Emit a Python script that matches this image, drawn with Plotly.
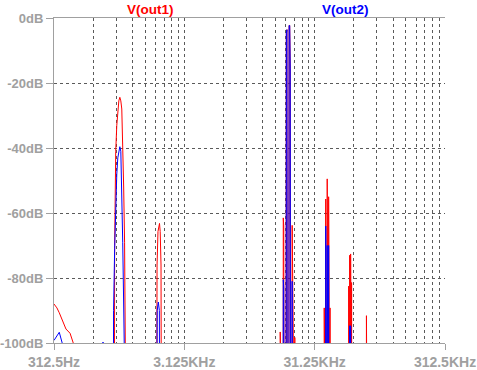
import math
import plotly.graph_objects as go

# ---------------- data ----------------
FLOOR = -140  # below the visible range: the trace drops out of the plot

out1_freq_hz = [
    312.5, 329, 343, 364, 386, 415, 439, 452, 460,
    908, 912.5, 930, 947.5, 965, 982.5, 1000, 1017.5, 1035, 1052.5, 1070, 1087.5, 1105, 1118,
    1915, 1930, 1962, 1995, 2015, 2040, 2070, 2085,
    16950, 17000, 17050,
    17900, 17950, 18100, 18200,
    18850, 18950, 19150, 19250,
    19800, 19900, 20100, 20300, 20400,
    20900, 21000, 21100,
    21950, 22000, 22050,
    36900, 37000, 37100,
    37850, 38000, 38150,
    38850, 39000, 39150,
    39850, 40000, 40150,
    40900, 41000, 41100,
    56850, 57000, 57150,
    57850, 58000, 58150,
    58850, 59000, 59150,
    59850, 60000, 60150,
    77850, 78000, 78150,
    78850, 79000, 79150,
]
out1_db = [
    -88.0, -89.2, -90.7, -93.4, -95.7, -97.0, -99.6, -101.5, FLOOR,
    FLOOR, -70, -41, -33, -28, -25.5, -24.4, -25.5, -28, -37, -52, -69, -88, FLOOR,
    FLOOR, -76, -65.7, -63.2, -63.2, -65.7, -76, FLOOR,
    FLOOR, -96.6, FLOOR,
    FLOOR, -61.5, -64, FLOOR,
    FLOOR, -4.7, -3.6, FLOOR,
    FLOOR, -2.3, -2.3, -15.4, FLOOR,
    FLOOR, -63.8, FLOOR,
    FLOOR, -98.3, FLOOR,
    FLOOR, -89.2, FLOOR,
    FLOOR, -55.7, FLOOR,
    FLOOR, -49.5, FLOOR,
    FLOOR, -55.0, FLOOR,
    FLOOR, -89.2, FLOOR,
    FLOOR, -82.5, FLOOR,
    FLOOR, -73.0, FLOOR,
    FLOOR, -72.6, FLOOR,
    FLOOR, -81.4, FLOOR,
    FLOOR, -91.6, FLOOR,
    FLOOR, -94.7, FLOOR,
]

out2_freq_hz = [
    312.5, 329, 343, 364, 372,
    735, 743, 751,
    890, 895, 912.5, 930, 947.5, 965, 982.5, 1000, 1017.5, 1035, 1052.5, 1070, 1087.5, 1105, 1115,
    1920, 1935, 1975, 2010, 2025,
    17900, 17950, 18100, 18200,
    18850, 18950, 19150, 19250,
    19800, 19900, 20100, 20300, 20400,
    20900, 21000, 21100,
    37850, 38000, 38150,
    38850, 39000, 39150,
    39850, 40000, 40150,
    57850, 58000, 58150,
    58850, 59000, 59150,
]
out2_db = [
    -99.2, -98.0, -96.7, -100.5, FLOOR,
    FLOOR, -99.7, FLOOR,
    FLOOR, -90, -71, -56, -48, -43, -41, -39.6, -41, -52, -69, -88, -97.5, -99.5, FLOOR,
    FLOOR, -90, -87.4, -90, FLOOR,
    FLOOR, -80.5, -83, FLOOR,
    FLOOR, -4.7, -3.6, FLOOR,
    FLOOR, -2.3, -2.3, -15.4, FLOOR,
    FLOOR, -81, FLOOR,
    FLOOR, -64, FLOOR,
    FLOOR, -70, FLOOR,
    FLOOR, -70, FLOOR,
    FLOOR, -94.7, FLOOR,
    FLOOR, -94.7, FLOOR,
]

x_tick_vals = [312.5, 3125, 31250, 312500]
x_tick_text = ["312.5Hz", "3.125KHz", "31.25KHz", "312.5KHz"]
y_tick_vals = [0, -20, -40, -60, -80, -100]
y_tick_text = ["0dB", "-20dB", "-40dB", "-60dB", "-80dB", "-100dB"]

# grid multiples (2..9 per decade) plus inner decades
grid_x = []
for dec in [312.5, 3125, 31250]:
    for k in range(2, 10):
        grid_x.append(dec * k)
grid_x_major = [3125, 31250]

# ---------------- style ----------------
GRAY = "#a0a0a0"
GRID = "#5a5a5a"
FONT = "Liberation Sans"

fig = go.Figure()
fig.add_trace(go.Scatter(x=out1_freq_hz, y=out1_db, mode="lines",
                         line=dict(color="#ff0000", width=1), name="V(out1)"))
fig.add_trace(go.Scatter(x=out2_freq_hz, y=out2_db, mode="lines",
                         line=dict(color="#0000ff", width=1), name="V(out2)"))

fig.update_layout(
    width=477, height=370,
    margin=dict(l=54, r=32, t=18, b=27, autoexpand=False),
    paper_bgcolor="white", plot_bgcolor="white",
    showlegend=False,
    xaxis=dict(
        type="log", automargin=False,
        range=[math.log10(312.5), math.log10(312500)],
        tickmode="array", tickvals=x_tick_vals, ticktext=x_tick_text,
        showgrid=False,
        minor=dict(tickmode="array", tickvals=grid_x + grid_x_major, showgrid=True,
                   gridcolor=GRID, griddash="3px,3px", gridwidth=1, ticks=""),
        showline=True, linecolor=GRAY, linewidth=1, mirror=True,
        ticks="outside", ticklen=6, tickcolor=GRAY,
        tickfont=dict(family=FONT, size=14, color=GRAY, weight="bold"),
        zeroline=False,
    ),
    yaxis=dict(
        range=[-100, 0], automargin=False,
        tickmode="array", tickvals=y_tick_vals, ticktext=y_tick_text,
        showgrid=True, gridcolor=GRID, griddash="3px,3px", gridwidth=1,
        showline=True, linecolor=GRAY, linewidth=1,
        ticks="outside", ticklen=7, tickcolor=GRAY,
        tickfont=dict(family=FONT, size=13, color=GRAY, weight="bold"),
        zeroline=False,
    ),
    annotations=[
        dict(text="V(out1)", x=0.248, y=1.026, xref="paper", yref="paper",
             xanchor="center", yanchor="middle", showarrow=False,
             font=dict(family=FONT, size=13.5, color="#ff0000", weight="bold")),
        dict(text="V(out2)", x=0.746, y=1.026, xref="paper", yref="paper",
             xanchor="center", yanchor="middle", showarrow=False,
             font=dict(family=FONT, size=13.5, color="#0000ff", weight="bold")),
    ],
)

fig.write_html("out.html", config={"displayModeBar": False},
               post_script="document.body.style.margin='0px';document.body.style.overflow='hidden';")
